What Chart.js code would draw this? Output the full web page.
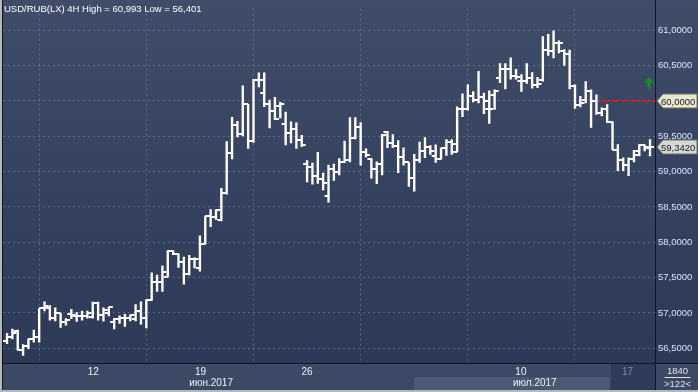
<!DOCTYPE html>
<html>
<head>
<meta charset="utf-8">
<script src="https://cdn.jsdelivr.net/npm/chart.js@4.4.0/dist/chart.umd.min.js"></script>
<style>
html, body { margin: 0; padding: 0; background: #2c3957; }
#wrap { width: 698px; height: 392px; }
</style>
</head>
<body>
<div id="wrap"><canvas id="ohlcChart" width="698" height="392"></canvas></div>
<script>
// USD/RUB 4H bars
const opens = [
  56.602, 56.667, 56.741, 56.481, 56.528, 56.625, 56.667, 57.065, 57.074, 56.935,
  56.995, 56.866, 56.991, 56.958, 56.954, 56.963, 56.949, 57.144, 56.972, 57.005,
  56.875, 56.921, 56.935, 56.926, 56.912, 57.028, 56.935, 57.190, 57.444, 57.444,
  57.514, 57.870, 57.829, 57.722, 57.551, 57.759, 57.630, 57.977, 58.370, 58.356,
  58.315, 58.694, 59.259, 59.667, 59.528, 59.954, 59.435, 60.292, 60.120, 59.954,
  59.852, 59.935, 59.676, 59.551, 59.606, 59.444, 59.111, 59.065, 58.935, 58.894,
  58.662, 59.037, 58.991, 59.130, 59.162, 59.477, 59.625, 59.278, 59.185, 59.037,
  59.102, 59.556, 59.407, 59.370, 59.208, 59.130, 58.917, 59.162, 59.287, 59.347,
  59.222, 59.185, 59.333, 59.417, 59.278, 59.889, 59.889, 60.074, 60.009, 60.056,
  59.880, 60.088, 60.319, 60.449, 60.449, 60.356, 60.282, 60.282, 60.319, 60.227,
  60.296, 60.727, 60.713, 60.819, 60.713, 60.667, 60.218, 59.940, 60.019, 60.144,
  59.995, 59.824, 59.880, 59.704, 59.310, 59.162, 59.093, 59.185, 59.292, 59.380,
  59.333
];
const highs = [
  56.713, 56.773, 56.759, 56.551, 56.634, 56.759, 57.065, 57.157, 57.106, 57.074,
  56.995, 56.921, 57.051, 57.005, 57.028, 57.028, 57.153, 57.153, 57.074, 57.083,
  56.921, 56.958, 56.981, 56.972, 57.120, 57.157, 57.190, 57.569, 57.537, 57.667,
  57.884, 57.884, 57.838, 57.792, 57.815, 57.782, 58.093, 58.370, 58.463, 58.463,
  58.764, 59.426, 59.769, 59.713, 60.213, 59.954, 60.306, 60.398, 60.398, 60.014,
  60.051, 59.981, 59.843, 59.704, 59.690, 59.514, 59.157, 59.120, 59.273, 58.981,
  59.093, 59.106, 59.185, 59.431, 59.764, 59.764, 59.694, 59.324, 59.185, 59.139,
  59.528, 59.569, 59.523, 59.440, 59.338, 59.130, 59.245, 59.417, 59.481, 59.370,
  59.380, 59.333, 59.454, 59.454, 59.917, 60.102, 60.227, 60.134, 60.421, 60.111,
  60.144, 60.157, 60.528, 60.528, 60.611, 60.449, 60.375, 60.528, 60.403, 60.333,
  60.912, 60.944, 60.993, 60.852, 60.727, 60.722, 60.227, 60.065, 60.273, 60.157,
  60.088, 59.903, 59.949, 59.704, 59.384, 59.194, 59.194, 59.301, 59.384, 59.380,
  59.454
];
const lows = [
  56.565, 56.634, 56.472, 56.401, 56.495, 56.588, 56.588, 57.028, 56.898, 56.889,
  56.796, 56.829, 56.921, 56.880, 56.898, 56.926, 56.926, 56.898, 56.884, 56.958,
  56.773, 56.852, 56.810, 56.889, 56.889, 56.843, 56.787, 57.176, 57.306, 57.306,
  57.514, 57.824, 57.644, 57.407, 57.537, 57.639, 57.593, 57.977, 58.222, 58.324,
  58.301, 58.681, 59.181, 59.491, 59.505, 59.329, 59.412, 60.199, 59.921, 59.620,
  59.736, 59.759, 59.380, 59.407, 59.329, 59.352, 58.856, 58.824, 58.833, 58.741,
  58.569, 58.875, 58.954, 59.130, 59.139, 59.463, 59.093, 59.208, 58.907, 58.829,
  58.954, 59.338, 59.338, 58.986, 59.093, 58.792, 58.722, 59.130, 59.199, 59.245,
  59.130, 59.176, 59.231, 59.245, 59.278, 59.778, 59.870, 59.986, 59.972, 59.819,
  59.681, 59.880, 60.259, 60.171, 60.310, 60.310, 60.134, 60.250, 60.181, 60.190,
  60.282, 60.644, 60.611, 60.681, 60.505, 60.171, 59.894, 59.917, 59.972, 59.625,
  59.810, 59.787, 59.694, 59.310, 59.014, 59.014, 58.944, 59.139, 59.222, 59.292,
  59.222
];
const closes = [
  56.667, 56.713, 56.481, 56.537, 56.625, 56.667, 57.065, 57.097, 56.935, 56.995,
  56.875, 56.903, 56.972, 56.954, 56.958, 56.995, 57.144, 56.972, 57.037, 57.083,
  56.921, 56.935, 56.926, 56.972, 57.028, 56.935, 57.190, 57.444, 57.444, 57.583,
  57.870, 57.838, 57.722, 57.551, 57.759, 57.769, 57.977, 58.370, 58.356, 58.463,
  58.694, 59.259, 59.667, 59.537, 59.954, 59.435, 60.292, 60.292, 59.954, 59.852,
  59.750, 59.954, 59.551, 59.606, 59.444, 59.380, 59.065, 58.935, 58.894, 58.843,
  59.037, 58.991, 59.130, 59.162, 59.477, 59.625, 59.278, 59.231, 59.037, 59.102,
  59.519, 59.407, 59.370, 59.208, 59.130, 58.917, 59.162, 59.287, 59.347, 59.287,
  59.185, 59.333, 59.417, 59.394, 59.889, 59.889, 60.074, 60.009, 60.056, 59.995,
  59.880, 60.148, 60.449, 60.449, 60.356, 60.333, 60.282, 60.319, 60.227, 60.236,
  60.727, 60.713, 60.819, 60.819, 60.667, 60.218, 59.940, 59.972, 60.144, 59.995,
  59.824, 59.880, 59.704, 59.310, 59.162, 59.093, 59.185, 59.231, 59.380, 59.342,
  59.342
];

const weekTicks = [16.1, 36.1, 56.0, 75.9, 95.9, 115.8];
const weekLabels = ['12', '19', '26', '', '10', '17'];
const monthTicks = [38.1, 98.5];
const monthLabels = ['июн.2017', 'июл.2017'];
const yTicks = [56.5, 57.0, 57.5, 58.0, 58.5, 59.0, 59.5, 60.0, 60.5, 61.0];

const alertLevel = 60.0;
const alertFrom = 111;
const lastPrice = 59.342;
const arrowLevel = 60.25;
const titleText = 'USD/RUB(LX) 4H High = 60,993 Low = 56,401';
const totalBars = 1840;
const visibleBars = 122;

const FONT = '"Liberation Sans", Arial, sans-serif';
const gridColor = 'rgba(120,136,165,0.55)';

function fmt(v, d) {
  return v.toFixed(d).replace('.', ',');
}

const xMin = -0.75, xMax = opens.length - 1 + 0.93;

const bgPlugin = {
  id: 'bg',
  beforeDraw(chart) {
    const { ctx, width, height, chartArea } = chart;
    const x = chart.scales.x;
    const g = ctx.createLinearGradient(0, 0, 0, chartArea.bottom);
    g.addColorStop(0, '#404d69');
    g.addColorStop(1, '#2c3957');
    ctx.save();
    ctx.fillStyle = g;
    ctx.fillRect(0, 0, width, height);
    // axis strip
    ctx.fillStyle = '#3c4965';
    ctx.fillRect(0, chartArea.bottom, width, height - chartArea.bottom);
    const b0 = Math.round(x.getPixelForValue(weekTicks[3]));
    const b1 = Math.round(x.getPixelForValue(112.6));
    ctx.fillStyle = '#4a5874';
    ctx.fillRect(b0, chartArea.bottom + 14, b1 - b0, height - chartArea.bottom - 16);
    ctx.fillStyle = '#2f3b57';
    ctx.fillRect(b1 + 1, chartArea.bottom + 1, chartArea.right - b1 - 1, height - chartArea.bottom - 3);
    ctx.restore();
  }
};

const ohlcPlugin = {
  id: 'ohlcTicks',
  afterDatasetsDraw(chart) {
    const { ctx } = chart;
    const xs = chart.scales.x, ys = chart.scales.y;
    ctx.save();
    ctx.strokeStyle = '#ffffff';
    ctx.lineWidth = 2;
    ctx.beginPath();
    for (let i = 0; i < opens.length; i++) {
      const px = xs.getPixelForValue(i);
      const yo = Math.round(ys.getPixelForValue(opens[i]));
      const yc = Math.round(ys.getPixelForValue(closes[i]));
      ctx.moveTo(px - 4, yo);
      ctx.lineTo(px, yo);
      ctx.moveTo(px, yc);
      ctx.lineTo(px + 4, yc);
    }
    ctx.stroke();
    ctx.restore();
  },
  afterDraw(chart) {
    const { ctx, width, height, chartArea } = chart;
    const xs = chart.scales.x, ys = chart.scales.y;
    ctx.save();
    // frame
    ctx.fillStyle = '#10151f';
    ctx.fillRect(chartArea.right, 0, 1, height - 2);
    ctx.fillRect(2, chartArea.bottom, width - 2, 1);
    ctx.fillRect(2, 0, 1, height - 2);
    ctx.fillStyle = '#b4b8c0';
    ctx.fillRect(0, 0, 2, height);
    ctx.fillRect(0, height - 2, width, 2);

    // title
    ctx.font = '9.5px ' + FONT;
    ctx.fillStyle = '#ffffff';
    ctx.textBaseline = 'alphabetic';
    ctx.textAlign = 'left';
    ctx.fillText(titleText, 4, 12);

    // green arrow
    const ax = Math.round(xs.getPixelForValue(opens.length - 1)) - 1;
    const ay = Math.round(ys.getPixelForValue(arrowLevel));
    ctx.fillStyle = '#1c8a22';
    ctx.beginPath();
    ctx.moveTo(ax, ay - 6);
    ctx.lineTo(ax + 5, ay);
    ctx.lineTo(ax - 5, ay);
    ctx.closePath();
    ctx.fill();
    ctx.fillRect(ax - 1.5, ay - 1, 3, 7);

    // price tags on the axis
    const tag = (v, txt, fill) => {
      const y = Math.round(ys.getPixelForValue(v));
      const l = chartArea.right + 2;
      ctx.beginPath();
      ctx.moveTo(l, y);
      ctx.lineTo(l + 6, y - 7);
      ctx.lineTo(width - 1, y - 7);
      ctx.lineTo(width - 1, y + 7);
      ctx.lineTo(l + 6, y + 7);
      ctx.closePath();
      ctx.fillStyle = fill;
      ctx.fill();
      ctx.strokeStyle = '#6d7466';
      ctx.lineWidth = 1;
      ctx.stroke();
      ctx.fillStyle = '#1b1b1b';
      ctx.font = '9.5px ' + FONT;
      ctx.textBaseline = 'middle';
      ctx.fillText(txt, l + 4, y + 1);
    };
    tag(alertLevel, fmt(alertLevel, 4), '#e8e6cf');
    tag(lastPrice, fmt(lastPrice, 4), '#d6d8d8');

    // bar counter
    const cx = (chartArea.right + width) / 2 + 1;
    ctx.fillStyle = '#dfe3ea';
    ctx.textAlign = 'center';
    ctx.textBaseline = 'middle';
    ctx.font = '9.5px ' + FONT;
    ctx.fillText(String(totalBars), cx, chartArea.bottom + 8);
    ctx.fillText('>' + visibleBars + '<', cx, chartArea.bottom + 21);
    ctx.fillRect(cx - 13, chartArea.bottom + 14, 26, 1);
    ctx.restore();
  }
};

const ctx = document.getElementById('ohlcChart').getContext('2d');
const ohlcChart = new Chart(ctx, {
  type: 'bar',
  data: {
    datasets: [{
      label: 'High-Low',
      data: highs.map((h, i) => ({ x: i, y: [lows[i], h] })),
      backgroundColor: '#ffffff',
      borderWidth: 0,
      barThickness: 1.7,
      grouped: false
    }, {
      type: 'line',
      label: 'Alert',
      data: [{ x: alertFrom, y: alertLevel }, { x: xMax, y: alertLevel }],
      borderColor: '#e3141a',
      borderWidth: 2,
      borderDash: [6, 4],
      pointRadius: 0
    }]
  },
  options: {
    responsive: false,
    devicePixelRatio: 1,
    animation: false,
    events: [],
    layout: { padding: { left: 3, top: 2, right: 0, bottom: 0 } },
    plugins: { legend: { display: false }, tooltip: { enabled: false }, title: { display: false } },
    scales: {
      x: {
        type: 'linear',
        min: xMin,
        max: xMax,
        offset: false,
        afterBuildTicks: (s) => {
          s.ticks = weekTicks.concat(monthTicks).map(v => ({ value: v }));
        },
        afterFit: (s) => { s.height = 29; },
        grid: {
          color: (c) => (c.tick && monthTicks.includes(c.tick.value)) ? 'rgba(0,0,0,0)' : gridColor,
          lineWidth: 1,
          drawTicks: false
        },
        border: { display: false, dash: [2, 3] },
        ticks: {
          autoSkip: false,
          maxRotation: 0,
          padding: 3,
          font: { family: FONT, size: 10, lineHeight: 1.15 },
          color: (c) => (c.tick && c.tick.value === weekTicks[5]) ? '#7f8ba3' : '#eef2f8',
          callback: (v) => {
            const wi = weekTicks.indexOf(v);
            if (wi >= 0) return weekLabels[wi];
            const mi = monthTicks.indexOf(v);
            return mi >= 0 ? ['', monthLabels[mi]] : '';
          }
        }
      },
      y: {
        position: 'right',
        min: 56.292,
        max: 61.306,
        afterBuildTicks: (s) => { s.ticks = yTicks.map(v => ({ value: v })); },
        afterFit: (s) => { s.width = 43; },
        grid: { color: gridColor, lineWidth: 1, drawTicks: false },
        border: { display: false, dash: [2, 3] },
        ticks: {
          padding: 3,
          font: { family: FONT, size: 9.5 },
          color: '#dbe6f7',
          callback: (v) => fmt(v, 4)
        }
      }
    }
  },
  plugins: [bgPlugin, ohlcPlugin]
});
</script>
</body>
</html>
